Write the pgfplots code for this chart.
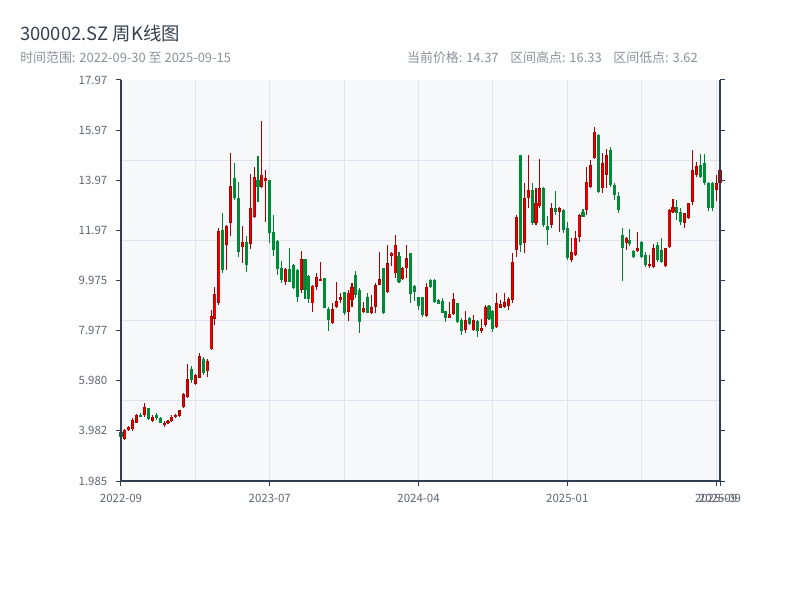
\documentclass[border=0pt]{standalone}
\usepackage{pgfplots}
\pgfplotsset{compat=1.18}
\usepackage{pgfplotstable}
\usepackage{fontspec}
\setmainfont{Noto Sans CJK SC}
\definecolor{axcol}{HTML}{2E3D4F}
\definecolor{ticklab}{HTML}{5F6673}
\definecolor{gridcol}{HTML}{E0E4EA}
\definecolor{bgcol}{HTML}{F6F8FA}
\definecolor{titlecol}{HTML}{34404F}
\definecolor{subcol}{HTML}{8C9099}
\definecolor{upfill}{RGB}{236,0,0}
\definecolor{upedge}{RGB}{170,0,0}
\definecolor{dnfill}{RGB}{0,140,55}
\definecolor{dnedge}{RGB}{0,128,48}

% up (red) weeks: index open high low close
\pgfplotstableread{
i o h l c
1 3.66 4.06 3.62 4.03
2 4.00 4.16 3.98 4.13
3 4.05 4.48 3.99 4.40
4 4.30 4.66 4.28 4.62
6 4.60 5.08 4.55 4.95
8 4.38 4.60 4.35 4.55
11 4.20 4.38 4.12 4.30
12 4.28 4.42 4.26 4.38
13 4.38 4.62 4.35 4.55
14 4.52 4.66 4.51 4.63
15 4.58 4.82 4.55 4.80
16 4.92 5.48 4.88 5.45
17 5.35 6.65 5.28 6.04
19 5.85 6.24 5.81 6.20
20 6.10 7.07 6.08 6.95
22 6.35 6.83 6.12 6.75
23 7.23 8.80 7.20 8.55
24 8.45 9.73 8.20 9.45
25 9.10 12.06 9.00 11.95
27 11.40 12.19 10.40 12.15
28 12.26 15.07 11.75 13.74
31 11.30 12.15 10.66 11.50
33 11.45 14.22 11.22 12.85
34 12.52 14.49 12.45 14.10
36 13.72 16.33 13.65 14.20
37 13.95 14.38 12.32 14.05
42 9.93 10.49 9.80 10.45
46 9.60 11.15 9.49 10.82
49 9.07 9.80 8.71 9.77
50 9.73 10.26 9.60 10.13
51 9.97 10.70 9.95 10.04
54 8.27 9.09 8.23 8.83
55 8.94 9.92 8.90 9.16
56 9.20 9.49 9.07 9.30
58 8.73 9.60 8.37 9.49
59 9.20 9.86 8.93 9.70
62 8.73 9.13 8.70 8.90
64 8.67 9.40 8.64 8.93
65 8.93 9.86 8.67 9.80
66 9.80 11.13 9.78 10.02
68 9.53 11.39 9.47 10.66
69 10.97 11.13 10.56 11.09
70 10.26 11.79 10.06 11.39
72 10.02 10.53 10.00 10.46
73 10.46 11.39 10.06 10.86
78 8.56 9.86 8.54 9.73
84 8.50 9.13 8.47 8.66
85 8.64 9.47 8.60 9.23
88 8.00 8.77 7.87 8.40
90 8.00 8.60 7.98 8.40
92 7.95 8.43 7.87 8.07
93 8.20 9.00 8.14 8.93
96 8.14 9.47 8.07 9.07
97 8.90 9.20 8.87 9.05
98 8.93 9.47 8.87 9.13
99 8.95 9.30 8.80 9.25
100 9.20 11.06 9.10 10.73
101 11.20 12.59 10.90 12.52
103 11.46 13.85 11.06 13.25
104 13.25 14.98 12.86 13.58
106 12.26 13.65 12.19 13.05
107 12.93 14.81 12.86 13.65
110 12.19 13.06 12.06 12.86
112 12.72 12.92 11.93 12.86
115 10.80 11.66 10.73 11.13
116 11.00 11.95 10.95 11.66
117 11.72 12.62 11.53 12.59
119 12.79 14.52 12.59 13.92
120 13.72 14.78 13.65 14.58
121 14.85 16.11 14.81 15.91
123 13.65 15.05 13.45 14.65
124 14.18 15.21 13.65 14.98
129 11.46 11.70 11.19 11.66
132 11.15 11.92 11.13 11.26
135 10.55 10.99 10.46 10.63
136 10.50 11.43 10.48 11.26
139 10.56 11.28 10.53 11.26
140 11.30 12.81 11.28 12.79
141 12.72 13.21 12.65 12.90
144 12.26 12.68 12.06 12.65
145 12.45 13.08 12.42 13.05
146 13.12 15.18 12.99 14.38
147 14.20 14.71 14.11 14.55
152 13.60 14.18 13.16 13.85
153 13.85 14.41 13.72 14.37
}\upweeks

% down (green) weeks
\pgfplotstableread{
i o h l c
0 3.92 3.95 3.72 3.75
5 4.62 4.71 4.52 4.55
7 4.88 4.90 4.42 4.45
9 4.62 4.68 4.42 4.48
10 4.50 4.52 4.28 4.30
18 6.45 6.57 5.88 6.00
21 6.85 6.91 6.21 6.30
26 12.00 12.66 10.29 10.40
29 14.05 14.67 13.20 13.25
30 13.25 13.92 10.93 11.13
32 11.50 11.75 10.33 10.60
35 14.00 14.94 13.12 13.70
38 13.98 14.00 11.46 11.86
39 11.90 12.58 10.95 11.20
40 11.55 11.60 10.20 10.45
41 10.46 10.75 9.86 9.99
43 10.42 11.28 9.90 9.93
44 10.60 10.62 9.63 9.67
45 10.40 10.42 9.13 9.33
47 10.83 10.85 9.23 9.60
48 10.15 10.19 9.07 9.25
52 10.07 10.09 8.87 8.90
53 8.83 8.93 7.98 8.40
57 9.50 9.53 8.62 8.68
60 10.20 10.37 9.27 9.40
61 9.60 9.67 7.87 8.34
63 9.30 9.47 8.67 8.70
67 10.46 10.48 8.64 8.67
71 10.95 11.13 9.86 9.93
74 11.06 11.09 9.10 9.45
75 9.75 9.80 9.17 9.50
76 9.30 9.33 8.80 8.95
77 9.30 9.33 8.54 8.60
79 9.98 10.02 9.66 9.70
80 10.00 10.02 9.07 9.13
81 9.20 9.23 9.04 9.06
82 9.15 9.27 8.67 8.70
83 8.75 8.77 8.34 8.50
86 9.07 9.10 8.27 8.34
87 8.40 8.47 7.80 7.95
89 8.50 8.54 8.20 8.25
91 8.35 8.40 7.74 7.95
94 8.95 9.00 8.40 8.45
95 8.75 8.80 7.94 8.05
102 14.98 15.00 11.13 11.39
105 13.58 13.85 12.19 12.26
108 13.65 13.72 12.13 12.19
109 12.15 12.55 11.39 12.00
111 12.86 13.55 12.59 12.72
113 12.79 12.82 11.86 12.00
114 12.06 12.32 10.80 10.86
118 12.70 12.82 12.50 12.52
122 15.78 15.80 13.45 13.52
125 15.18 15.31 13.72 13.78
126 13.78 13.88 13.19 13.39
127 13.35 13.52 12.68 12.79
128 11.79 12.06 9.97 11.26
130 11.59 12.02 11.35 11.43
131 11.15 11.19 10.86 10.90
133 11.52 11.57 10.86 10.93
134 11.00 11.13 10.53 10.60
137 11.39 11.52 10.73 10.80
138 11.20 11.66 10.69 10.73
142 12.90 13.19 12.39 12.65
143 12.70 12.85 12.19 12.30
148 14.58 15.02 14.05 14.12
149 14.65 15.02 13.78 13.85
150 13.85 13.92 12.76 12.85
151 13.85 13.92 12.76 12.85
}\downweeks

\begin{document}
\begin{tikzpicture}
\path[use as bounding box] (-90.75pt,-89.25pt) rectangle (509.25pt,360.75pt);
\begin{axis}[
  name=ax,
  at={(0,0)}, anchor=south west,
  scale only axis,
  width=449.25pt, height=300.75pt,
  xmin=0, xmax=153,
  ymin=1.985, ymax=17.97,
  clip=false,
  axis background/.style={fill=bgcol},
  axis line style={draw=none},
  tick align=outside,
  xtick pos=left, ytick pos=both,
  xticklabel pos=left, yticklabel pos=left,
  major tick length=3.75pt,
  major tick style={axcol, line width=0.75pt},
  xtick={0,38,76,114,152,153},
  xticklabels={2022-09,2023-07,2024-04,2025-01,2025-09,2025-09},
  ytick={1.985,3.983125,5.98125,7.979375,9.9775,11.975625,13.97375,15.971875,17.97},
  yticklabels={1.985,3.982,5.980,7.977,9.975,11.97,13.97,15.97,17.97},
  minor xtick={19,38,57,76,95,114,133,152},
  minor ytick={5.182,8.379,11.576,14.773},
  minor tick length=0pt,
  xminorgrids=true, yminorgrids=true,
  xmajorgrids=false, ymajorgrids=false,
  minor grid style={gridcol, line width=0.75pt},
  /pgf/number format/assume math mode=true,
  ticklabel style={font=\fontsize{8.6pt}{10pt}\selectfont, text=ticklab},
  xticklabel style={yshift=-2.5pt},
  yticklabel style={xshift=-3pt},
  candle/.style={draw=none, mark=none, forget plot,
    error bars/y dir=both, error bars/y explicit, error bars/error mark=none},
]
% wicks
\addplot[candle, error bars/error bar style={draw=upedge, line width=0.8pt}]
  table[x=i, y expr={(\thisrow{h}+\thisrow{l})/2}, y error expr={(\thisrow{h}-\thisrow{l})/2}] {\upweeks};
\addplot[candle, error bars/error bar style={draw=dnedge, line width=0.8pt}]
  table[x=i, y expr={(\thisrow{h}+\thisrow{l})/2}, y error expr={(\thisrow{h}-\thisrow{l})/2}] {\downweeks};
% bodies
\addplot[candle, error bars/error bar style={draw=upedge, line width=2.3pt}]
  table[x=i, y expr={(\thisrow{o}+\thisrow{c})/2}, y error expr={max(abs(\thisrow{c}-\thisrow{o})/2,0.02)}] {\upweeks};
\addplot[candle, error bars/error bar style={draw=upfill, line width=1.0pt}]
  table[x=i, y expr={(\thisrow{o}+\thisrow{c})/2}, y error expr={max(abs(\thisrow{c}-\thisrow{o})/2-0.03,0.005)}] {\upweeks};
\addplot[candle, error bars/error bar style={draw=dnfill, line width=2.3pt}]
  table[x=i, y expr={(\thisrow{o}+\thisrow{c})/2}, y error expr={max(abs(\thisrow{c}-\thisrow{o})/2,0.02)}] {\downweeks};
\end{axis}
\draw[axcol, line width=1.1pt] (ax.north west) -- (ax.south west) -- (ax.south east) -- (ax.north east);
\node[anchor=west, text=titlecol, font=\fontsize{13.8pt}{16pt}\selectfont, inner sep=0pt] at (-75.75pt,335.25pt) {300002.SZ 周K线图};
\node[anchor=west, text=subcol, font=\fontsize{9.7pt}{11pt}\selectfont, inner sep=0pt] at (-75.75pt,317.25pt) {时间范围: 2022-09-30 至 2025-09-15};
\node[anchor=east, text=subcol, font=\fontsize{9.7pt}{11pt}\selectfont, inner sep=0pt] at (432.75pt,317.25pt) {当前价格: 14.37\hspace{0.9em}区间高点: 16.33\hspace{0.9em}区间低点: 3.62};
\end{tikzpicture}
\end{document}
